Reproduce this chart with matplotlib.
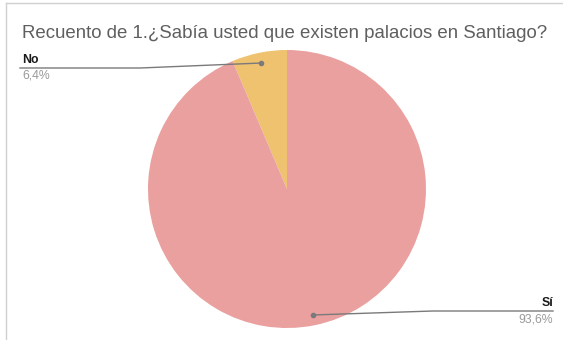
import numpy as np
import matplotlib.pyplot as plt
from matplotlib.lines import Line2D

# Survey answers and their shares
labels = ["No", "Sí"]
shares = [6.4, 93.6]
pct_text = ["6,4%", "93,6%"]
colors = ["#EFC270", "#E9A09F"]

plt.rcParams['font.family'] = ['Liberation Sans', 'DejaVu Sans']

W, H = 563, 340
fig = plt.figure(figsize=(W / 100, H / 100), dpi=100)

# light frame on the top and left edges
fig.add_artist(Line2D([6 / W, 6 / W], [0, 1 - 3 / H], color="#d0d0d0", lw=1))
fig.add_artist(Line2D([6 / W, 1], [1 - 3 / H, 1 - 3 / H], color="#d0d0d0", lw=1))

fig.text(22 / W, 1 - 33 / H, "Recuento de 1.¿Sabía usted que existen palacios en Santiago?",
         fontsize=13.4, color="#5f5f5f", va="center", ha="left")

ax = fig.add_axes([148 / W, 1 - 328 / H, 278 / W, 278 / H])
wedges, _ = ax.pie(shares, colors=colors, startangle=90, counterclock=True,
                   wedgeprops=dict(linewidth=0))
ax.set_xlim(-1, 1)
ax.set_ylim(-1, 1)
ax.set_aspect("equal")
ax.axis("off")

# leader lines: dot inside each wedge, a bend, then a flat run under the label
fig.canvas.draw()
inv = fig.transFigure.inverted()
layout = {
    "No": dict(knee=(140, 68), end=(20, 68), tx=22, ha="left"),
    "Sí": dict(knee=(433, 311), end=(553, 311), tx=553, ha="right"),
}
for w, lab, pct in zip(wedges, labels, pct_text):
    mid = np.deg2rad((w.theta1 + w.theta2) / 2)
    dot = inv.transform(ax.transData.transform((0.925 * np.cos(mid), 0.925 * np.sin(mid))))
    L = layout[lab]
    kx, ky = L["knee"][0] / W, 1 - L["knee"][1] / H
    ex, ey = L["end"][0] / W, 1 - L["end"][1] / H
    fig.add_artist(Line2D([dot[0], kx, ex], [dot[1], ky, ey], color="#7a7a7a", lw=1))
    fig.add_artist(Line2D([dot[0]], [dot[1]], marker="o", ms=3, color="#7a7a7a"))
    fig.text(L["tx"] / W, ey + 2 / H, lab, fontsize=8.8, color="#1a1a1a",
             ha=L["ha"], va="bottom", fontweight="bold")
    fig.text(L["tx"] / W, ey - 2 / H, pct, fontsize=8.8, color="#9a9a9a",
             ha=L["ha"], va="top")

fig.savefig("out.png", dpi=100)
